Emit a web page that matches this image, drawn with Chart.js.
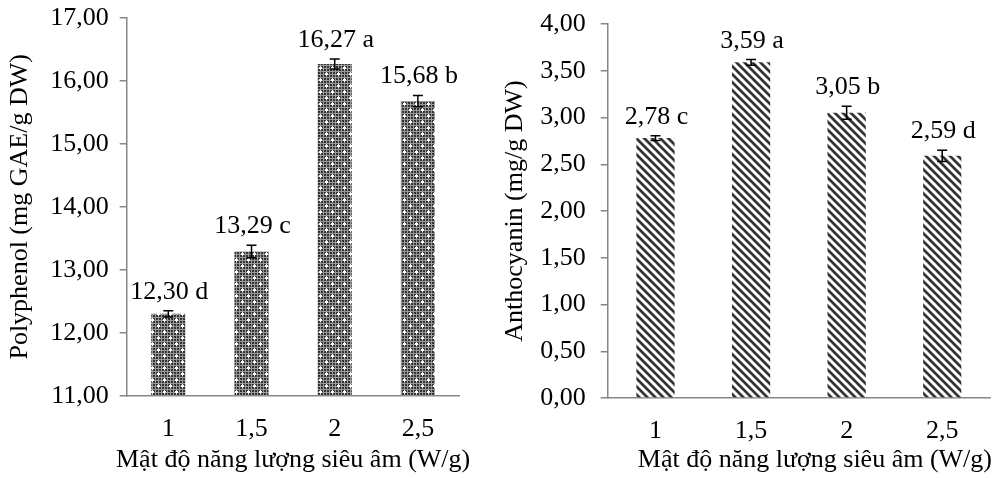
<!DOCTYPE html>
<html>
<head>
<meta charset="utf-8">
<script src="https://cdn.jsdelivr.net/npm/chart.js@4/dist/chart.umd.min.js"></script>
<style>
  body { margin: 0; background: #fff; width: 998px; height: 478px; overflow: hidden; position: relative; }
  .box { position: absolute; top: 0; height: 478px; }
  #leftBox { left: 0; width: 490px; }
  #rightBox { left: 490px; width: 508px; }
</style>
</head>
<body>
<div class="box" id="leftBox"><canvas id="polyChart"></canvas></div>
<div class="box" id="rightBox"><canvas id="anthoChart"></canvas></div>
<script>
const categories = ["1", "1,5", "2", "2,5"];

const polyphenol = [12.30, 13.29, 16.27, 15.68];
const polyphenolErr = [0.05, 0.1, 0.08, 0.09];
const polyphenolLetters = ["d", "c", "a", "b"];
const polyTicks = [11, 12, 13, 14, 15, 16, 17];

const anthocyanin = [2.78, 3.59, 3.05, 2.59];
const anthocyaninErr = [0.025, 0.03, 0.07, 0.06];
const anthocyaninLetters = ["c", "a", "b", "d"];
const anthoTicks = [0, 0.5, 1, 1.5, 2, 2.5, 3, 3.5, 4];

const xTitle = "Mật độ năng lượng siêu âm (W/g)";
const FONT = "'Liberation Serif', 'Times New Roman', serif";
const FONT_SIZE = 26;
const AXIS_GREY = "#868686";

function fmt(v) {
  return v.toFixed(2).replace(".", ",");
}

function dottedPattern() {
  const tile = document.createElement("canvas");
  tile.width = 12;
  tile.height = 12;
  const c = tile.getContext("2d");
  c.fillStyle = "#9a9a9a";
  c.fillRect(0, 0, 12, 12);
  c.fillStyle = "#333";
  for (let x = 0; x < 12; x += 3) {
    for (let y = 0; y < 12; y += 3) c.fillRect(x, y, 2, 2);
  }
  c.fillStyle = "#fafafa";
  c.fillRect(1, 1, 3, 2);
  c.fillRect(2, 0, 1, 4);
  c.fillRect(7, 7, 3, 2);
  c.fillRect(8, 6, 1, 4);
  return c.createPattern(tile, "repeat");
}

function hatchPattern() {
  const tile = document.createElement("canvas");
  tile.width = 8;
  tile.height = 8;
  const c = tile.getContext("2d");
  c.fillStyle = "#fff";
  c.fillRect(0, 0, 8, 8);
  c.strokeStyle = "#333";
  c.lineWidth = 2.7;
  c.beginPath();
  [-8, 0, 8].forEach((x0) => {
    c.moveTo(x0 - 1, -1);
    c.lineTo(x0 + 9, 9);
  });
  c.stroke();
  return c.createPattern(tile, "repeat");
}

// error bars, value labels and the x-axis title (drawn here so it is not squeezed to the axis width)
const barNotes = {
  id: "barNotes",
  afterDatasetsDraw(chart, args, opts) {
    const ctx = chart.ctx;
    const yScale = chart.scales.y;
    const values = chart.data.datasets[0].data;
    ctx.save();
    chart.getDatasetMeta(0).data.forEach((bar, i) => {
      const top = yScale.getPixelForValue(values[i] + opts.errors[i]);
      const bottom = yScale.getPixelForValue(values[i] - opts.errors[i]);
      ctx.strokeStyle = "#000";
      ctx.lineWidth = 1.5;
      ctx.beginPath();
      ctx.moveTo(bar.x, top);
      ctx.lineTo(bar.x, bottom);
      ctx.moveTo(bar.x - 5, top);
      ctx.lineTo(bar.x + 5, top);
      ctx.moveTo(bar.x - 5, bottom);
      ctx.lineTo(bar.x + 5, bottom);
      ctx.stroke();
      ctx.fillStyle = "#000";
      ctx.font = `${FONT_SIZE}px ${FONT}`;
      ctx.textAlign = "center";
      ctx.textBaseline = "alphabetic";
      ctx.fillText(`${fmt(values[i])} ${opts.letters[i]}`, bar.x + 1, top - 12);
    });

    const area = chart.chartArea;
    ctx.font = `${FONT_SIZE}px ${FONT}`;
    ctx.textBaseline = "alphabetic";
    if (opts.titleAlign === "end") {
      ctx.textAlign = "right";
      ctx.fillText(xTitle, area.right + 2, chart.height - 11);
    } else {
      ctx.textAlign = "center";
      ctx.fillText(xTitle, (area.left + area.right) / 2, chart.height - 11);
    }
    ctx.restore();
  },
};

function buildChart(canvasId, cfg) {
  return new Chart(document.getElementById(canvasId), {
    type: "bar",
    data: {
      labels: categories,
      datasets: [
        {
          data: cfg.values,
          backgroundColor: cfg.fill,
          borderWidth: 0,
          barPercentage: cfg.barPct,
          categoryPercentage: 1,
        },
      ],
    },
    options: {
      responsive: true,
      maintainAspectRatio: false,
      animation: false,
      layout: { padding: { top: cfg.padTop, right: cfg.padRight, bottom: 0, left: 0 } },
      plugins: {
        legend: { display: false },
        tooltip: { enabled: false },
        barNotes: { errors: cfg.errors, letters: cfg.letters, titleAlign: cfg.titleAlign },
      },
      scales: {
        x: {
          grid: { display: false, drawTicks: false },
          border: { display: true, color: AXIS_GREY, width: 1.5 },
          ticks: { color: "#000", font: { family: FONT, size: FONT_SIZE }, padding: 18 },
          afterFit: (scale) => {
            scale.height = cfg.xHeight;
            scale.paddingLeft = 0;
            scale.paddingRight = 0;
          },
        },
        y: {
          min: cfg.ticks[0],
          max: cfg.ticks[cfg.ticks.length - 1],
          afterBuildTicks: (scale) => {
            scale.ticks = cfg.ticks.map((v) => ({ value: v }));
          },
          grid: { display: true, drawOnChartArea: false, drawTicks: true, tickLength: 7, color: AXIS_GREY, lineWidth: 1.5 },
          border: { display: true, color: AXIS_GREY, width: 1.5 },
          ticks: {
            color: "#000",
            font: { family: FONT, size: FONT_SIZE },
            padding: cfg.tickPad,
            callback: (value) => fmt(value),
          },
          title: {
            display: true,
            text: cfg.yTitle,
            color: "#000",
            font: { family: FONT, size: FONT_SIZE },
            padding: { top: cfg.yTitlePad, bottom: 0 },
          },
          afterFit: (scale) => {
            scale.width = cfg.yWidth;
            scale.paddingTop = 0;
            scale.paddingBottom = 0;
          },
        },
      },
    },
    plugins: [barNotes],
  });
}

buildChart("polyChart", {
  values: polyphenol,
  errors: polyphenolErr,
  letters: polyphenolLetters,
  ticks: polyTicks,
  fill: dottedPattern(),
  barPct: 0.41,
  padTop: 18,
  padRight: 30.5,
  xHeight: 82.3,
  yWidth: 126.7,
  tickPad: 11,
  yTitle: "Polyphenol (mg GAE/g DW)",
  yTitlePad: 5,
  titleAlign: "center",
});

buildChart("anthoChart", {
  values: anthocyanin,
  errors: anthocyaninErr,
  letters: anthocyaninLetters,
  ticks: anthoTicks,
  fill: hatchPattern(),
  barPct: 0.4,
  padTop: 24,
  padRight: 8,
  xHeight: 80,
  yWidth: 117.7,
  tickPad: 15,
  yTitle: "Anthocyanin (mg/g DW)",
  yTitlePad: 10,
  titleAlign: "end",
});
</script>
</body>
</html>
